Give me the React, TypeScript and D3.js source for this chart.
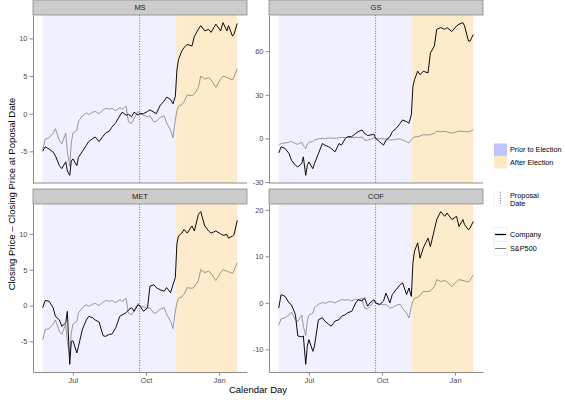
import { useEffect, useRef } from 'react';
import * as d3 from 'd3';

// trading days (2016-05-24 .. 2017-01-24)
const dates = [
  '2016-05-24', '2016-05-27', '2016-06-01', '2016-06-06', '2016-06-09', '2016-06-14', '2016-06-17',
  '2016-06-22', '2016-06-24', '2016-06-27', '2016-06-29', '2016-07-01', '2016-07-06', '2016-07-08',
  '2016-07-13', '2016-07-18', '2016-07-21', '2016-07-26', '2016-07-29', '2016-08-03', '2016-08-08',
  '2016-08-11', '2016-08-16', '2016-08-19', '2016-08-24', '2016-08-29', '2016-09-01', '2016-09-06',
  '2016-09-09', '2016-09-13', '2016-09-16', '2016-09-21', '2016-09-23', '2016-09-28', '2016-10-03',
  '2016-10-06', '2016-10-11', '2016-10-14', '2016-10-19', '2016-10-24', '2016-10-27', '2016-11-01',
  '2016-11-04', '2016-11-07', '2016-11-09', '2016-11-11', '2016-11-15', '2016-11-18', '2016-11-22',
  '2016-11-28', '2016-12-01', '2016-12-06', '2016-12-09', '2016-12-14', '2016-12-19', '2016-12-22',
  '2016-12-28', '2017-01-03', '2017-01-06', '2017-01-11', '2017-01-13', '2017-01-18', '2017-01-20',
  '2017-01-24',
];

const sp500 = [
  -4.8, -3.4, -3.2, -2.6, -2.0, -3.6, -4.0, -2.6, -5.0, -7.0, -3.8, -2.6, -2.2, -1.0,
  -0.3, 0.1, -0.1, 0.2, 0.3, 0.0, 0.5, 0.7, 0.6, 0.7, 0.4, 0.8, 0.6, 1.0,
  -1.1, -1.3, -0.7, 0.3, 0.0, -0.2, -0.4, -0.3, -1.1, -1.0, -0.5, -0.3, -1.2, -2.2,
  -3.2, -0.8, 0.4, 1.0, 1.2, 1.6, 2.5, 2.4, 2.6, 3.5, 5.0, 4.6, 4.8, 4.5,
  3.5, 4.6, 5.0, 4.8, 4.7, 4.5, 4.9, 6.0,
];

const ms = [
  -5.0, -4.4, -4.7, -5.1, -5.6, -6.9, -7.3, -6.4, -7.6, -8.2, -6.3, -6.0, -6.9, -5.8,
  -5.0, -4.2, -3.7, -3.3, -3.1, -3.7, -3.0, -2.6, -2.3, -1.8, -1.2, -0.3, 0.2, -0.2,
  -0.1, -0.4, 0.2, -0.2, 0.0, 0.0, 0.3, 0.5, 0.2, 0.0, 1.1, 1.7, 2.2, 1.9,
  1.3, 2.3, 5.8, 7.2, 8.3, 8.8, 9.2, 9.0, 10.3, 11.2, 11.7, 11.0, 11.2, 10.8,
  11.9, 11.0, 12.1, 11.0, 11.7, 10.3, 10.6, 12.0,
];

const gs = [
  -10.0, -5.8, -6.9, -10.4, -15.0, -18.5, -19.6, -17.3, -12.7, -25.4, -18.5, -16.2, -20.8, -17.3,
  -10.4, -3.5, -4.6, -5.8, -6.9, -9.2, -3.5, -4.6, 0.0, 1.2, 1.2, 3.5, 4.6, 5.8,
  3.5, 2.0, 2.3, 2.8, 0.0, -2.3, -4.6, -1.2, 1.2, 4.6, 6.9, 10.4, 12.7, 11.5,
  10.4, 16.2, 35.8, 40.4, 46.2, 43.8, 46.2, 45.0, 58.8, 63.5, 75.0, 76.2, 75.0, 76.2,
  73.5, 77.3, 78.5, 79.6, 77.3, 66.9, 66.9, 71.5,
];

const met = [
  -0.3, 0.7, 0.6, -0.3, -1.5, -2.0, -2.9, -2.4, -0.8, -8.2, -5.0, -4.9, -6.6, -5.7,
  -3.3, -2.0, -1.5, -1.7, -2.0, -2.3, -4.2, -4.3, -4.0, -4.0, -3.1, -1.5, -1.3, -1.0,
  -0.6, -0.3, -0.8, 0.1, 0.0, -0.8, -0.3, 2.7, 2.9, 2.5, 2.2, 2.0, 2.5, 1.8,
  2.9, 3.9, 8.7, 9.7, 10.1, 10.6, 10.1, 11.1, 10.4, 12.7, 13.1, 11.1, 10.4, 10.1,
  10.4, 10.0, 9.8, 9.9, 9.4, 9.7, 9.9, 11.9,
];

const cof = [
  -1.1, 1.8, 1.4, 0.0, -0.4, -2.5, -7.1, -7.3, -7.1, -13.2, -9.3, -7.9, -10.4, -9.3,
  -3.6, -3.2, -3.9, -4.6, -5.0, -3.9, -3.6, -2.9, -2.5, -2.1, -1.8, 0.0, 0.7, 0.4,
  1.1, -0.7, 0.0, 0.7, 0.0, -0.4, 0.4, 2.1, 0.0, 1.8, 2.9, 3.9, 4.3, 1.8,
  3.2, 1.4, 8.6, 11.1, 12.9, 9.6, 11.8, 13.9, 12.1, 15.7, 17.9, 19.6, 18.6, 19.3,
  17.9, 18.6, 16.4, 17.9, 16.8, 15.7, 16.1, 17.5,
];

const companies = ['MS', 'GS', 'MET', 'COF'];
const companySeries = [ms, gs, met, cof];
const yTickValues = [[-5, 0, 5, 10], [-30, 0, 30, 60], [-5, 0, 5, 10], [-10, 0, 10, 20]];

const xTickDates = ['2016-07-01', '2016-10-01', '2017-01-01'];
const xTickLabels = ['Jul', 'Oct', 'Jan'];
const proposalDate = '2016-09-23';
const electionDate = '2016-11-08';

const periodLabels = ['Prior to Election', 'After Election'];
const lineLabels = ['Company', 'S&P500'];

const FONT = '"Liberation Sans", Arial, Helvetica, sans-serif';

export default function App() {
  const svgRef = useRef<SVGSVGElement>(null);

  useEffect(() => {
    if (!svgRef.current) return;
    const svg = d3.select(svgRef.current);
    svg.selectAll('*').remove();

    // layout of the 2x2 facet grid
    const colX = [33, 269];
    const rowY = [15, 204];
    const panelW = 214;
    const panelH = 168;
    const stripH = 15;
    const axisColor = '#8a8a8a';

    const parse = d3.timeParse('%Y-%m-%d');
    const t = dates.map(d => parse(d) as Date);
    const t0 = t[0].getTime();
    const t1 = t[t.length - 1].getTime();
    const pad = (t1 - t0) * 0.05;
    const x = d3.scaleTime()
      .domain([new Date(t0 - pad), new Date(t1 + pad)])
      .range([0, panelW]);

    const elec = parse(electionDate) as Date;
    const prop = parse(proposalDate) as Date;

    companySeries.forEach((company, i) => {
      const col = i % 2;
      const row = Math.floor(i / 2);
      const g = svg.append('g')
        .attr('transform', `translate(${colX[col]},${rowY[row]})`);

      const [lo, hi] = d3.extent(company.concat(sp500)) as [number, number];
      const yPad = (hi - lo) * 0.05;
      const y = d3.scaleLinear().domain([lo - yPad, hi + yPad]).range([panelH, 0]);

      // election periods
      g.append('rect')
        .attr('x', x(t[0])).attr('y', 0)
        .attr('width', x(elec) - x(t[0])).attr('height', panelH)
        .attr('fill', '#f0f0fe');
      g.append('rect')
        .attr('x', x(elec)).attr('y', 0)
        .attr('width', x(t[t.length - 1]) - x(elec)).attr('height', panelH)
        .attr('fill', '#fdebcc');

      // proposal date
      g.append('line')
        .attr('x1', x(prop)).attr('x2', x(prop))
        .attr('y1', 0).attr('y2', panelH)
        .attr('stroke', '#333')
        .attr('stroke-width', 0.7)
        .attr('stroke-dasharray', '1,1.6');

      const line = d3.line<number>()
        .x((_, j) => x(t[j]))
        .y(v => y(v));

      g.append('path')
        .datum(sp500)
        .attr('fill', 'none')
        .attr('stroke', '#7a7a7a')
        .attr('stroke-width', 0.75)
        .attr('stroke-linejoin', 'round')
        .attr('d', line);

      g.append('path')
        .datum(company)
        .attr('fill', 'none')
        .attr('stroke', '#000')
        .attr('stroke-width', 0.95)
        .attr('stroke-linejoin', 'round')
        .attr('d', line);

      // y axis
      const yAxis = d3.axisLeft(y)
        .tickValues(yTickValues[i])
        .tickSize(3.5)
        .tickSizeOuter(0)
        .tickPadding(2)
        .tickFormat(d => String(d));
      const ya = g.append('g').call(yAxis);
      ya.attr('font-family', FONT).attr('font-size', 7.5);
      ya.selectAll('text').attr('fill', '#4d4d4d');
      ya.selectAll('line').attr('stroke', axisColor);
      ya.select('.domain').attr('stroke', axisColor);

      // x axis (ticks only on the bottom row)
      if (row === 1) {
        const xAxis = d3.axisBottom(x)
          .tickValues(xTickDates.map(d => parse(d) as Date))
          .tickSize(3.5)
          .tickSizeOuter(0)
          .tickPadding(2)
          .tickFormat((_, k) => xTickLabels[k]);
        const xa = g.append('g')
          .attr('transform', `translate(0,${panelH})`)
          .call(xAxis);
        xa.attr('font-family', FONT).attr('font-size', 7.5);
        xa.selectAll('text').attr('fill', '#4d4d4d');
        xa.selectAll('line').attr('stroke', axisColor);
        xa.select('.domain').attr('stroke', axisColor);
      } else {
        g.append('line')
          .attr('x1', 0).attr('x2', panelW)
          .attr('y1', panelH).attr('y2', panelH)
          .attr('stroke', axisColor);
      }

      // facet strip
      g.append('rect')
        .attr('x', 0).attr('y', -stripH)
        .attr('width', panelW).attr('height', stripH)
        .attr('fill', '#cccccc')
        .attr('stroke', axisColor)
        .attr('stroke-width', 0.8);
      g.append('text')
        .attr('x', panelW / 2).attr('y', -stripH / 2)
        .attr('dy', '0.35em')
        .attr('text-anchor', 'middle')
        .attr('font-family', FONT)
        .attr('font-size', 7.5)
        .attr('fill', '#1a1a1a')
        .text(companies[i]);
    });

    // axis titles
    svg.append('text')
      .attr('transform', 'translate(15,194) rotate(-90)')
      .attr('text-anchor', 'middle')
      .attr('font-family', FONT)
      .attr('font-size', 9.5)
      .text('Closing Price – Closing Price at Poposal Date');

    svg.append('text')
      .attr('x', (colX[0] + colX[1] + panelW) / 2)
      .attr('y', 393)
      .attr('text-anchor', 'middle')
      .attr('font-family', FONT)
      .attr('font-size', 9.5)
      .text('Calendar Day');

    // legends
    const lg = svg.append('g').attr('font-family', FONT).attr('font-size', 7.3);
    const keyX = 494;
    const keyW = 13;
    const fills = ['#c3c3fe', '#fee8c2'];
    periodLabels.forEach((lab, k) => {
      const ky = 143.5 + k * 12.5;
      lg.append('rect')
        .attr('x', keyX).attr('y', ky)
        .attr('width', keyW).attr('height', 12.5)
        .attr('fill', fills[k]);
      lg.append('text')
        .attr('x', keyX + keyW + 3).attr('y', ky + 6.25)
        .attr('dy', '0.35em')
        .text(lab);
    });

    lg.append('rect')
      .attr('x', keyX).attr('y', 192)
      .attr('width', keyW).attr('height', 14)
      .attr('fill', '#fff')
      .attr('stroke', '#e6e6e6')
      .attr('stroke-width', 0.6);
    lg.append('line')
      .attr('x1', keyX + keyW / 2).attr('x2', keyX + keyW / 2)
      .attr('y1', 192.5).attr('y2', 205.5)
      .attr('stroke', '#333')
      .attr('stroke-width', 0.7)
      .attr('stroke-dasharray', '1,1.6');
    lg.append('text').attr('x', keyX + keyW + 3).attr('y', 198).text('Proposal');
    lg.append('text').attr('x', keyX + keyW + 3).attr('y', 206).text('Date');

    const lineColors = ['#000', '#7a7a7a'];
    lineLabels.forEach((lab, k) => {
      const ky = 227.5 + k * 14;
      lg.append('rect')
        .attr('x', keyX).attr('y', ky)
        .attr('width', keyW).attr('height', 14)
        .attr('fill', '#fff')
        .attr('stroke', '#e6e6e6')
        .attr('stroke-width', 0.6);
      lg.append('line')
        .attr('x1', keyX + 1).attr('x2', keyX + keyW - 1)
        .attr('y1', ky + 7).attr('y2', ky + 7)
        .attr('stroke', lineColors[k])
        .attr('stroke-width', k === 0 ? 1.3 : 1);
      lg.append('text')
        .attr('x', keyX + keyW + 3).attr('y', ky + 7)
        .attr('dy', '0.35em')
        .text(lab);
    });
  }, []);

  return (
    <svg
      ref={svgRef}
      width={565}
      height={400}
      style={{ position: 'absolute', left: 0, top: 0, background: '#fff' }}
    />
  );
}
